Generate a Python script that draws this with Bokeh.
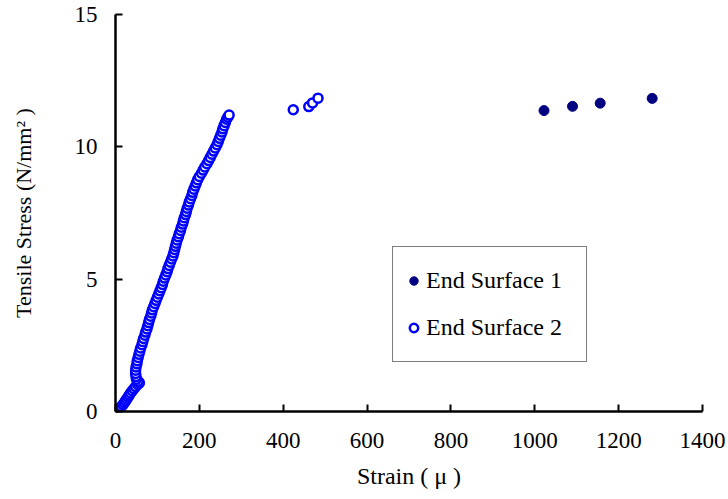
from bokeh.plotting import figure
from bokeh.models import Range1d, Legend, LegendItem, FixedTicker
from bokeh.embed import file_html
from bokeh.resources import INLINE

# ---- data ----
s1_strain = [1022, 1090, 1156, 1280]
s1_stress = [11.37, 11.53, 11.65, 11.83]

s2_strain = [0, 4, 9, 14, 18, 21, 24, 27, 30, 33, 36, 40, 44, 48, 53, 57, 54, 50, 49, 48,
             48, 49, 51, 52, 54, 56, 58, 60, 63, 65, 67, 70, 72, 75, 77, 79, 81, 84, 86, 88,
             91, 94, 97, 100, 103, 106, 109, 112, 114, 117, 120, 123, 125, 128, 131, 134, 137, 139, 141, 143,
             145, 147, 150, 152, 155, 157, 160, 162, 164, 167, 169, 171, 174, 176, 179, 182, 184, 187, 190, 193,
             196, 200, 205, 209, 213, 218, 222, 226, 230, 234, 238, 242, 245, 248, 251, 254, 256, 259, 262, 265,
             268, 271,
             424, 461, 470, 483]
s2_stress = [0.00, 0.05, 0.12, 0.19, 0.26, 0.33, 0.40, 0.47, 0.55, 0.62, 0.70, 0.78, 0.86, 0.94, 1.02, 1.08, 1.14, 1.22, 1.32, 1.44,
             1.56, 1.68, 1.80, 1.92, 2.04, 2.16, 2.28, 2.40, 2.52, 2.64, 2.76, 2.88, 3.00, 3.12, 3.24, 3.36, 3.48, 3.60, 3.72, 3.84,
             3.96, 4.08, 4.20, 4.32, 4.44, 4.56, 4.68, 4.80, 4.92, 5.04, 5.16, 5.28, 5.40, 5.52, 5.64, 5.76, 5.88, 6.00, 6.12, 6.24,
             6.36, 6.48, 6.60, 6.72, 6.84, 6.96, 7.08, 7.20, 7.32, 7.44, 7.56, 7.68, 7.80, 7.92, 8.04, 8.16, 8.28, 8.40, 8.52, 8.64,
             8.76, 8.88, 9.00, 9.12, 9.24, 9.36, 9.48, 9.60, 9.72, 9.84, 9.96, 10.08, 10.20, 10.32, 10.44, 10.56, 10.68, 10.80, 10.92, 11.04,
             11.12, 11.20,
             11.40, 11.52, 11.66, 11.84]

x_ticks = [0, 200, 400, 600, 800, 1000, 1200, 1400]
y_ticks = [0, 5, 10, 15]

FONT = "'Liberation Serif', 'Times New Roman', serif"

p = figure(width=728, height=499, output_backend="svg", toolbar_location=None,
           x_range=Range1d(0, 1400), y_range=Range1d(0, 15),
           min_border_left=115, min_border_right=26, min_border_top=14, min_border_bottom=88)
p.background_fill_color = "white"
p.border_fill_color = "white"
p.outline_line_color = None
p.grid.visible = False

r2 = p.scatter(s2_strain, s2_stress, marker="circle", size=9, fill_color="white",
               line_color="#0000FF", line_width=2.5)
r1 = p.scatter(s1_strain, s1_stress, marker="circle", size=10, fill_color="#000080",
               line_color="#000080", line_width=1)

for ax, ticks in ((p.xaxis[0], x_ticks), (p.yaxis[0], y_ticks)):
    ax.ticker = FixedTicker(ticks=ticks)
    ax.minor_tick_line_color = None
    ax.major_tick_in = 7
    ax.major_tick_out = 0
    ax.major_tick_line_width = 2
    ax.major_tick_line_color = "black"
    ax.axis_line_width = 2.5
    ax.axis_line_color = "black"
    ax.major_label_text_font = FONT
    ax.major_label_text_font_size = "23px"
    ax.major_label_text_color = "black"
    ax.axis_label_text_font = FONT
    ax.axis_label_text_font_size = "22px"
    ax.axis_label_text_font_style = "normal"
    ax.axis_label_text_color = "black"

p.xaxis.axis_label = "Strain ( μ )"
p.xaxis.axis_label_text_font_size = "24px"
p.yaxis.axis_label = "Tensile Stress (N/mm² )"
p.xaxis.major_label_standoff = 21
p.xaxis.axis_label_standoff = 12
p.yaxis.major_label_standoff = 18
p.yaxis.axis_label_standoff = 36

legend = Legend(items=[LegendItem(label="End Surface 1", renderers=[r1]),
                       LegendItem(label="End Surface 2", renderers=[r2])],
                location=(277, 49))
legend.border_line_color = "black"
legend.border_line_width = 1.5
legend.background_fill_color = "white"
legend.background_fill_alpha = 1
legend.padding = 10
legend.spacing = 0
legend.glyph_width = 21
legend.glyph_height = 47
legend.label_height = 47
legend.label_standoff = 2
legend.label_text_font = FONT
legend.label_text_font_size = "24px"
legend.label_text_color = "black"
legend.label_width = 150
p.add_layout(legend, "center")

open("out.html", "w").write(file_html(p, INLINE))
